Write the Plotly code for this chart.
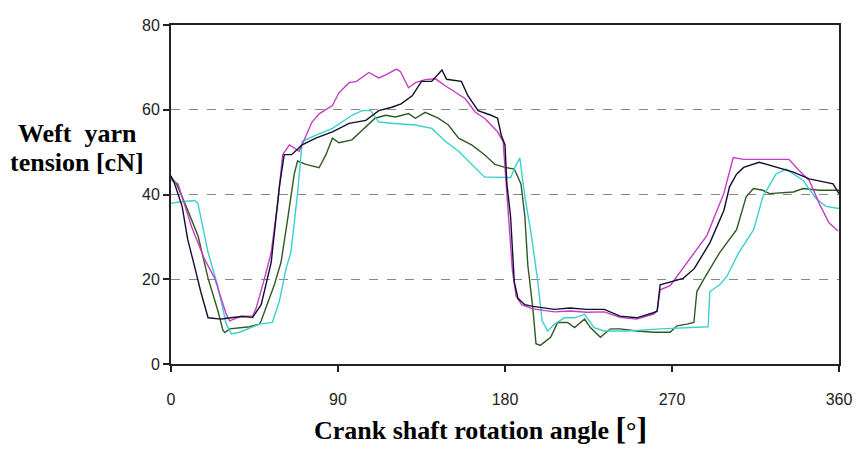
import plotly.graph_objects as go

###########################################################
# Data
###########################################################

black_x = [0, 2, 6, 9, 13, 16, 20, 27, 30, 38, 44, 48.6, 54, 58.4, 61, 65, 70.7, 78, 87, 96,
           105, 112, 119, 124, 130, 135, 140.5, 146, 148.5, 156.5, 160, 165.5, 172.5, 176, 178,
           180, 181, 183, 185, 187, 190.7, 195, 206.7, 215, 224, 233.5, 242, 251, 260, 262,
           263.6, 269, 276, 282, 290.4, 298, 301, 304.8, 308.6, 317, 326, 335.4, 344, 351.4,
           356.8, 360]
black_y = [44.4, 42.5, 37.2, 29.4, 22.5, 17.1, 10.9, 10.6, 10.8, 11.2, 11.0, 14.0, 24.0, 41.8,
           49.4, 49.4, 51.7, 53.3, 54.8, 56.8, 57.5, 59.8, 60.6, 61.4, 63.3, 66.7, 66.7, 69.4,
           67.2, 66.7, 63.3, 59.8, 58.7, 58.0, 54.0, 51.7, 42.5, 34.8, 19.4, 15.5, 14.0, 13.6,
           12.9, 13.2, 12.9, 12.9, 11.3, 10.9, 12.1, 12.5, 18.7, 19.4, 20.2, 22.5, 28.6, 36.3,
           41.8, 44.8, 46.4, 47.6, 46.4, 45.3, 43.7, 43.0, 42.5, 40.2]

magenta_x = [0, 3.8, 11, 18, 23.6, 29.8, 31.6, 37.9, 44, 45.9, 50.4, 54, 57.5, 60.2, 63.8, 69.1,
             76, 80, 87, 90.5, 96, 100, 106.6, 112, 116, 121.6, 123.7, 128, 131.7, 137, 142.5,
             148, 158.6, 164, 169, 176, 179, 180.5, 182, 184, 186, 189, 195, 206.7, 215, 224,
             233.5, 242, 251, 260, 262, 263.6, 269, 278, 288.8, 297.9, 303, 308.6, 317, 333,
             338.6, 344, 349.3, 354.6, 359.5]
magenta_y = [43.5, 42.5, 32.5, 24.8, 20.2, 11.7, 10.2, 11.3, 11.3, 13.2, 20.2, 26.3, 37.9, 49.4,
             51.7, 50.2, 57.1, 59.1, 61.0, 64.0, 66.4, 66.7, 68.8, 67.5, 68.3, 69.6, 69.0, 65.2,
             66.4, 67.1, 67.3, 65.6, 62.6, 59.4, 58.0, 54.8, 52.5, 44.0, 34.0, 22.0, 16.0, 14.0,
             13.0, 12.3, 12.5, 12.2, 12.3, 11.0, 10.6, 11.8, 12.5, 17.5, 18.5, 24.0, 30.3, 40.2,
             48.7, 48.3, 48.3, 48.3, 45.6, 43.3, 37.9, 33.3, 31.4]

green_x = [0, 3, 7.5, 14.6, 20, 25.3, 28, 29, 31.6, 42.3, 47.7, 48.6, 55.7, 59.3, 62.8, 66.4,
           68.2, 72.7, 79.8, 83.5, 87, 90.5, 97.5, 103, 110, 115.7, 121, 128, 131.7, 137, 144,
           149.5, 155, 162, 169, 174.6, 180, 185, 188.6, 190.7, 192.3, 195, 196.7, 199, 204.6,
           208.4, 213.7, 217.5, 222.9, 226, 231.4, 236.8, 242, 251, 260, 269, 272.7, 278, 281.8,
           283.4, 287, 295.7, 304.8, 310, 313.9, 319, 322.5, 335.4, 340.7, 349.3, 360]
green_y = [44.0, 42.5, 37.9, 30.2, 20.2, 12.5, 7.9, 7.4, 8.3, 8.8, 9.4, 10.2, 18.7, 24.0, 34.0,
           44.8, 47.9, 47.1, 46.3, 49.4, 53.3, 52.2, 52.9, 55.2, 58.0, 58.7, 58.3, 59.1, 58.0,
           59.4, 58.0, 56.4, 53.3, 51.7, 49.4, 47.1, 46.4, 46.0, 42.5, 34.8, 23.3, 13.2, 4.8,
           4.4, 6.3, 9.8, 9.8, 8.6, 10.6, 8.6, 6.3, 8.3, 8.3, 7.8, 7.5, 7.5, 9.0, 9.4, 9.8,
           17.1, 19.9, 26.3, 31.7, 39.5, 41.4, 41.0, 40.2, 40.6, 41.4, 41.0, 41.0]

cyan_x = [0, 5, 12.9, 14.5, 20, 25, 29.8, 32.5, 37, 47.7, 54.6, 58.4, 62, 64.6, 68.2, 70, 70.7,
          76, 87, 97.5, 103, 107.6, 112, 119, 131.7, 140.5, 148, 155, 162, 169, 171, 180, 183,
          186, 188, 190.7, 194, 197.7, 200, 203, 206.7, 212, 217.5, 222.9, 228, 233.5, 246, 264,
          282, 289.5, 290.4, 295.7, 299.5, 306, 314, 319, 326, 331.6, 340.7, 347.7, 353, 360]
cyan_y = [37.9, 38.3, 38.6, 37.9, 26.3, 18.7, 9.4, 7.1, 7.5, 9.4, 9.8, 14.8, 22.5, 26.3, 40.2,
          47.9, 52.5, 53.6, 55.6, 58.7, 59.8, 59.8, 57.1, 56.8, 56.4, 55.6, 52.5, 50.2, 47.1,
          44.1, 44.1, 44.1, 44.0, 47.0, 48.6, 39.5, 31.0, 19.4, 10.2, 7.8, 9.4, 10.9, 10.9, 11.7,
          8.6, 7.8, 7.8, 8.3, 8.6, 8.8, 17.1, 18.7, 20.6, 26.3, 31.7, 39.5, 44.8, 46.0, 43.3,
          39.0, 37.2, 36.7]

series = [
    ("green", green_x, green_y, "#2f5a22"),
    ("cyan", cyan_x, cyan_y, "#3ccfd0"),
    ("magenta", magenta_x, magenta_y, "#c43cc4"),
    ("black", black_x, black_y, "#10102e"),
]

x_ticks = [0, 90, 180, 270, 360]
y_ticks = [0, 20, 40, 60, 80]

###########################################################
# Figure
###########################################################

fig = go.Figure()

for name, xs, ys, color in series:
    fig.add_trace(
        go.Scatter(
            x=xs,
            y=ys,
            mode="lines",
            name=name,
            line=dict(color=color, width=1.4),
        )
    )

###########################################################
# Layout
###########################################################

# page body has an 8px margin, so the figure is 8px smaller than the window
tick_font = dict(family="Liberation Sans", size=16, color="#222222")
title_font = dict(family="Liberation Serif", size=26, color="black")

fig.update_layout(
    width=853,
    height=441,
    showlegend=False,
    plot_bgcolor="white",
    paper_bgcolor="white",
    margin=dict(l=163, r=18, t=9, b=85),
)

fig.update_xaxes(
    range=[0, 360],
    tickvals=x_ticks,
    ticks="outside",
    ticklen=6,
    tickcolor="#222222",
    tickwidth=1.5,
    tickfont=tick_font,
    ticklabelstandoff=14,
    showgrid=False,
    zeroline=False,
    showline=True,
    linecolor="#222222",
    linewidth=1.8,
    mirror=True,
)

fig.update_yaxes(
    range=[0, 80],
    tickvals=y_ticks,
    ticks="outside",
    ticklen=6,
    tickcolor="#222222",
    tickwidth=1.5,
    tickfont=tick_font,
    showgrid=True,
    gridcolor="#888888",
    gridwidth=1,
    griddash="dash",
    zeroline=False,
    showline=True,
    linecolor="#222222",
    linewidth=1.8,
    mirror=True,
)

fig.add_annotation(
    text="<b>Weft  yarn</b>",
    xref="paper", yref="paper",
    x=-0.14, y=0.68,
    xanchor="center", yanchor="middle",
    showarrow=False,
    font=title_font,
)

fig.add_annotation(
    text="<b>tension [cN]</b>",
    xref="paper", yref="paper",
    x=-0.14, y=0.594,
    xanchor="center", yanchor="middle",
    showarrow=False,
    font=title_font,
)

fig.add_annotation(
    text="<b>Crank shaft rotation angle <span style='font-size:32px'>[</span>°<span style='font-size:32px'>]</span></b>",
    xref="paper", yref="paper",
    x=0.463, y=-0.19,
    xanchor="center", yanchor="middle",
    showarrow=False,
    font=title_font,
)

fig.write_html("out.html")
